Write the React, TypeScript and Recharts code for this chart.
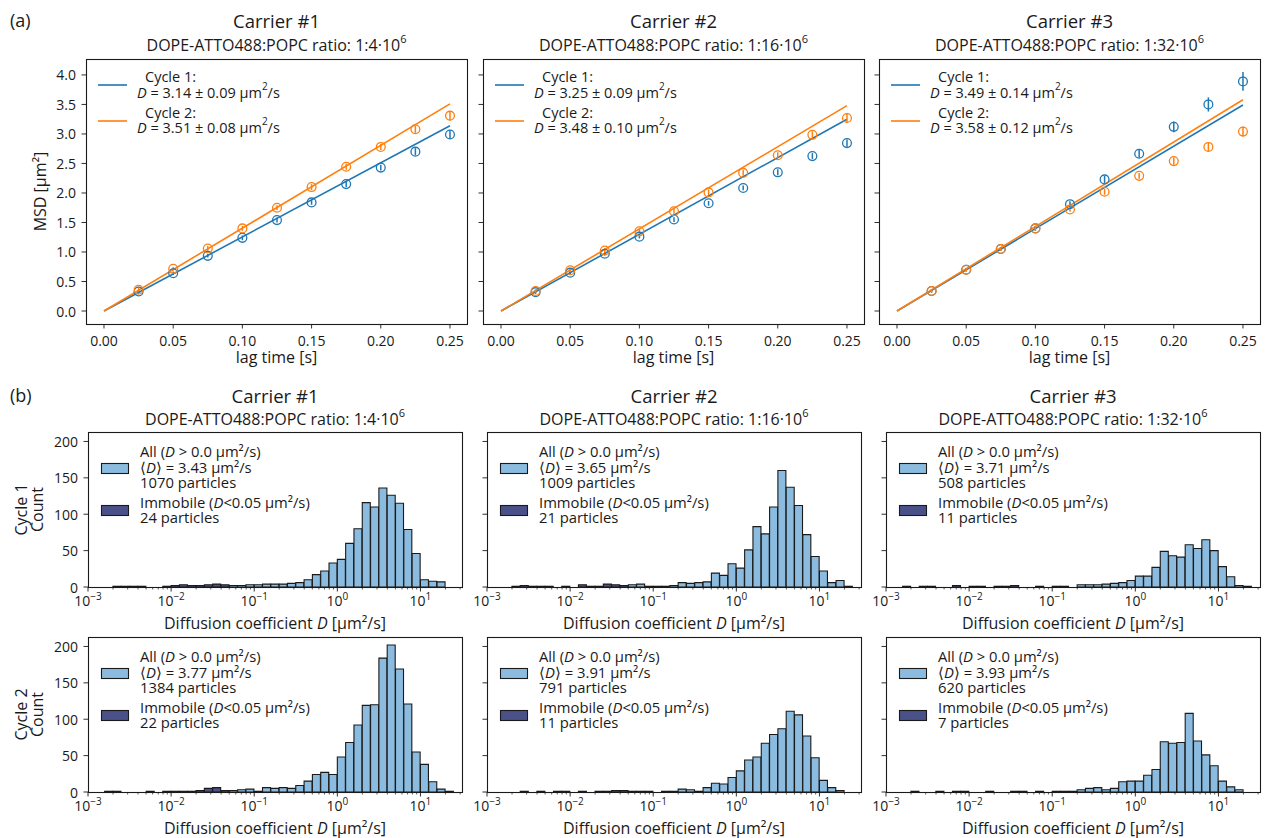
import React from 'react';
import { ComposedChart, BarChart, Bar, Line, Scatter, ErrorBar, XAxis, YAxis } from 'recharts';

const FONT = '"Open Sans", "Noto Sans", sans-serif';
const INK = '#1a1a1a';
const BLUE = '#1f77b4';
const ORANGE = '#ff7f0e';
const LIGHT = '#8bbcdf';
const DARK = '#4a5188';

// ---- (a) MSD vs lag time ----
const lagTimes = [0.025, 0.05, 0.075, 0.1, 0.125, 0.15, 0.175, 0.2, 0.225, 0.25];
const carriers = ['Carrier #1', 'Carrier #2', 'Carrier #3'];
const ratios = ['1:4', '1:16', '1:32'];

const msdCycle1 = [
  [0.33, 0.64, 0.935, 1.24, 1.54, 1.84, 2.15, 2.43, 2.7, 2.99],
  [0.32, 0.65, 0.97, 1.26, 1.55, 1.825, 2.085, 2.35, 2.625, 2.845],
  [0.34, 0.7, 1.05, 1.4, 1.81, 2.23, 2.665, 3.12, 3.5, 3.89],
];
const errCycle1 = [
  [0.03, 0.03, 0.03, 0.04, 0.04, 0.04, 0.05, 0.05, 0.06, 0.07],
  [0.03, 0.03, 0.03, 0.03, 0.04, 0.04, 0.04, 0.05, 0.05, 0.06],
  [0.03, 0.03, 0.03, 0.04, 0.05, 0.06, 0.07, 0.09, 0.12, 0.16],
];
const msdCycle2 = [
  [0.36, 0.715, 1.06, 1.4, 1.75, 2.1, 2.445, 2.78, 3.08, 3.31],
  [0.34, 0.69, 1.025, 1.35, 1.69, 2.01, 2.34, 2.64, 2.985, 3.27],
  [0.34, 0.7, 1.05, 1.4, 1.72, 2.02, 2.29, 2.54, 2.78, 3.04],
];
const errCycle2 = [
  [0.03, 0.03, 0.04, 0.04, 0.04, 0.05, 0.05, 0.05, 0.06, 0.08],
  [0.03, 0.03, 0.04, 0.04, 0.04, 0.05, 0.05, 0.05, 0.06, 0.08],
  [0.03, 0.03, 0.03, 0.04, 0.04, 0.05, 0.05, 0.06, 0.07, 0.08],
];
// linear fits MSD = 4 D t, drawn from t = 0 to t = 0.25
const fitLag = [0, 0.25];
const fitCycle1 = [[0, 3.14], [0, 3.25], [0, 3.49]];
const fitCycle2 = [[0, 3.51], [0, 3.48], [0, 3.58]];
const dCycle1 = ['3.14', '3.25', '3.49'];
const dErrCycle1 = ['0.09', '0.09', '0.14'];
const dCycle2 = ['3.51', '3.48', '3.58'];
const dErrCycle2 = ['0.08', '0.10', '0.12'];
const msdTicksX = [0, 0.05, 0.1, 0.15, 0.2, 0.25];
const msdTicksY = [0, 0.5, 1, 1.5, 2, 2.5, 3, 3.5, 4];

// ---- (b) histograms, bins of 0.1 decade from 1e-3 to 10^1.5 ----
const binStart = -3;
const binStep = 0.1;
const mobile = [
  [
    [0, 0, 0, 0, 0, 0, 0, 0, 0, 0, 0, 0, 0, 0, 0, 0, 0, 2, 2, 3, 3, 4, 4, 4, 5, 6, 10, 17, 22, 33, 38, 60, 80, 116, 110, 136, 126, 115, 79, 46, 10, 8, 7, 0, 0],
    [0, 0, 0, 0, 0, 0, 0, 0, 0, 0, 0, 0, 0, 0, 0, 0, 0, 3, 4, 1, 1, 1, 2, 6, 5, 6, 7, 19, 16, 32, 26, 51, 83, 73, 110, 160, 137, 112, 72, 42, 22, 6, 9, 1, 0],
    [0, 0, 0, 0, 0, 0, 0, 0, 0, 0, 0, 0, 0, 0, 0, 0, 0, 0, 1, 0, 1, 1, 0, 3, 3, 3, 4, 5, 6, 9, 15, 15, 27, 49, 43, 41, 58, 53, 65, 50, 28, 14, 2, 1, 0],
  ],
  [
    [0, 0, 0, 0, 0, 0, 0, 0, 0, 0, 0, 0, 0, 0, 0, 0, 0, 2, 3, 4, 1, 6, 5, 6, 5, 9, 15, 24, 27, 24, 48, 68, 92, 119, 120, 184, 202, 169, 121, 55, 38, 14, 4, 1, 0],
    [0, 0, 0, 0, 0, 0, 0, 0, 0, 0, 0, 0, 0, 0, 0, 0, 0, 1, 1, 1, 0, 1, 1, 4, 3, 1, 6, 12, 11, 20, 29, 44, 48, 67, 79, 87, 111, 106, 77, 47, 16, 6, 2, 0, 0],
    [0, 0, 0, 0, 0, 0, 0, 0, 0, 0, 0, 0, 0, 0, 0, 0, 0, 0, 1, 0, 1, 1, 1, 3, 5, 6, 3, 5, 14, 15, 15, 23, 31, 69, 67, 68, 108, 70, 51, 36, 15, 7, 3, 0, 0],
  ],
];
const immobile = [
  [
    [0, 0, 0, 1, 1, 1, 1, 0, 0, 1, 2, 3, 2, 2, 3, 4, 3],
    [0, 0, 0, 1, 2, 1, 1, 1, 0, 1, 0, 3, 1, 1, 4, 3, 2],
    [0, 0, 1, 0, 1, 1, 0, 0, 2, 0, 1, 1, 0, 1, 1, 2, 0],
  ],
  [
    [0, 0, 1, 1, 0, 0, 0, 1, 0, 1, 1, 1, 1, 2, 5, 6, 2],
    [0, 0, 0, 0, 1, 0, 1, 0, 1, 1, 0, 1, 0, 1, 1, 2, 2],
    [0, 0, 0, 1, 0, 0, 1, 0, 1, 1, 0, 0, 1, 0, 0, 1, 1],
  ],
];
const meanD = [['3.43', '3.65', '3.71'], ['3.77', '3.91', '3.93']];
const nParticles = [[1070, 1009, 508], [1384, 791, 620]];
const nImmobile = [[24, 21, 11], [22, 11, 7]];
const countTicks = [0, 50, 100, 150, 200];
const logTicks: number[] = [];
for (let e = -3; e <= 1; e++) {
  for (let k = 1; k <= 9; k++) {
    const v = e + Math.log10(k);
    if (v <= 1.5) logTicks.push(v);
  }
}

// ---- layout ----
const MT = 5;
const MR = 25;
const YW = 48;
const XH = 40;
const TOP = { y: 59, h: 265, w: 381, xs: [86, 483, 879] };
const HIST = { ys: [432, 637], h: 155, w: 374, xs: [88, 487, 886] };

const TICK_FS = 14;
const LABEL_FS = 16;
const SUB_FS = 16;
const TITLE_FS = 18.5;
const LEG_FS = 14.5;
const HLEG_FS = 14.8;
const TICK_LEN = 4.5;

const MsdXTick = (props: any) => {
  const { x, y, payload } = props;
  return (
    <g>
      <line x1={x} x2={x} y1={y} y2={y + TICK_LEN} stroke={INK} strokeWidth={0.9} />
      <text x={x} y={y + 16} textAnchor="middle" dominantBaseline="central" fontSize={TICK_FS} fill={INK} fontFamily={FONT}>
        {payload.value.toFixed(2)}
      </text>
    </g>
  );
};

const makeYTick = (show: boolean, digits: number) => (props: any) => {
  const { x, y, payload } = props;
  return (
    <g>
      <line x1={x - TICK_LEN} x2={x} y1={y} y2={y} stroke={INK} strokeWidth={0.9} />
      {show && (
        <text x={x - 10} y={y} textAnchor="end" dominantBaseline="central" fontSize={TICK_FS} fill={INK} fontFamily={FONT}>
          {payload.value.toFixed(digits)}
        </text>
      )}
    </g>
  );
};

const LogTick = (props: any) => {
  const { x, y, payload } = props;
  const v = payload.value;
  const major = Math.abs(v - Math.round(v)) < 1e-6;
  if (!major) {
    return <line x1={x} x2={x} y1={y} y2={y + 2.5} stroke={INK} strokeWidth={0.7} />;
  }
  const exp = Math.round(v);
  return (
    <g>
      <line x1={x} x2={x} y1={y} y2={y + TICK_LEN} stroke={INK} strokeWidth={0.9} />
      <text x={x} y={y + 19} textAnchor="middle" fontSize={TICK_FS} fill={INK} fontFamily={FONT}>
        10<tspan dy={-6} fontSize={10}>{exp < 0 ? '\u2212' + Math.abs(exp) : String(exp)}</tspan>
      </text>
    </g>
  );
};

const ring = (color: string) => (p: any) => (
  <circle cx={p.cx} cy={p.cy} r={4.4} fill="none" stroke={color} strokeWidth={1.3} />
);

function MsdPanel({ col }: { col: number }) {
  const x0 = TOP.xs[col];
  const pts1 = lagTimes.map((t, i) => ({ t, msd: msdCycle1[col][i], err: errCycle1[col][i] }));
  const pts2 = lagTimes.map((t, i) => ({ t, msd: msdCycle2[col][i], err: errCycle2[col][i] }));
  const fit1 = fitLag.map((t, i) => ({ t, msd: fitCycle1[col][i] }));
  const fit2 = fitLag.map((t, i) => ({ t, msd: fitCycle2[col][i] }));
  return (
    <div style={{ position: 'absolute', left: x0 - YW, top: TOP.y - MT }}>
      <ComposedChart width={TOP.w + YW + MR} height={TOP.h + MT + XH} margin={{ top: MT, right: MR, bottom: 0, left: 0 }}>
        <XAxis
          dataKey="t" type="number" domain={[-0.013, 0.2623]} allowDataOverflow ticks={msdTicksX} interval={0}
          height={XH} tick={MsdXTick} tickLine={false} axisLine={false} tickSize={0} tickMargin={0}
        />
        <YAxis
          dataKey="msd" type="number" domain={[-0.22, 4.27]} allowDataOverflow ticks={msdTicksY} interval={0}
          width={YW} tick={makeYTick(col === 0, 1)} tickLine={false} axisLine={false} tickSize={0} tickMargin={0}
        />
        <Line data={fit1} dataKey="msd" type="linear" stroke={BLUE} strokeWidth={1.6} dot={false} isAnimationActive={false} />
        <Line data={fit2} dataKey="msd" type="linear" stroke={ORANGE} strokeWidth={1.6} dot={false} isAnimationActive={false} />
        <Scatter data={pts1} dataKey="msd" fill="none" shape={ring(BLUE)} isAnimationActive={false}>
          <ErrorBar dataKey="err" direction="y" width={0} stroke={BLUE} strokeWidth={1.5} isAnimationActive={false} />
        </Scatter>
        <Scatter data={pts2} dataKey="msd" fill="none" shape={ring(ORANGE)} isAnimationActive={false}>
          <ErrorBar dataKey="err" direction="y" width={0} stroke={ORANGE} strokeWidth={1.5} isAnimationActive={false} />
        </Scatter>
      </ComposedChart>
    </div>
  );
}

function HistPanel({ row, col }: { row: number; col: number }) {
  const x0 = HIST.xs[col];
  const y0 = HIST.ys[row];
  const mob = mobile[row][col];
  const imm = immobile[row][col];
  const data = mob.map((m, i) => ({
    bin: i,
    c: binStart + binStep * (i + 0.5),
    mob: m,
    imm: imm[i] || 0,
  }));
  return (
    <div style={{ position: 'absolute', left: x0 - YW, top: y0 - MT }}>
      <BarChart
        width={HIST.w + YW + MR} height={HIST.h + MT + XH} data={data}
        barCategoryGap={0} barGap={0} margin={{ top: MT, right: MR, bottom: 0, left: 0 }}
      >
        <XAxis
          xAxisId="log" dataKey="c" type="number" domain={[-3, 1.5]} allowDataOverflow ticks={logTicks} interval={0}
          height={XH} tick={LogTick} tickLine={false} axisLine={false} tickSize={0} tickMargin={0}
        />
        <XAxis xAxisId="bin" dataKey="bin" hide height={0} />
        <YAxis
          type="number" domain={[0, 213]} allowDataOverflow ticks={countTicks} interval={0}
          width={YW} tick={makeYTick(col === 0, 0)} tickLine={false} axisLine={false} tickSize={0} tickMargin={0}
        />
        <Bar xAxisId="bin" dataKey="mob" stackId="s" fill={LIGHT} stroke={INK} strokeWidth={1.1} isAnimationActive={false} />
        <Bar xAxisId="bin" dataKey="imm" stackId="s" fill={DARK} stroke={INK} strokeWidth={1.1} isAnimationActive={false} />
      </BarChart>
    </div>
  );
}

const T = (p: any) => <text fontFamily={FONT} fill={INK} dominantBaseline="central" {...p} />;

const Subtitle = ({ x, y, ratio }: { x: number; y: number; ratio: string }) => (
  <T x={x} y={y} textAnchor="middle" fontSize={SUB_FS}>
    DOPE-ATTO488:POPC ratio: {ratio}{'\u00b7'}10<tspan dy={-7} fontSize={11}>6</tspan>
  </T>
);

const FitText = ({ x, y, d, e }: { x: number; y: number; d: string; e: string }) => (
  <T x={x} y={y} fontSize={LEG_FS}>
    <tspan fontStyle="italic">D</tspan> = {d} ± {e} µm<tspan dy={-6} fontSize={10}>2</tspan>
    <tspan dy={6}>/s</tspan>
  </T>
);

function Overlay() {
  const items: React.ReactNode[] = [];
  // (a) row
  TOP.xs.forEach((x0, col) => {
    const cx = x0 + TOP.w / 2;
    const y0 = TOP.y;
    items.push(
      <g key={'a' + col}>
        <rect x={x0 + 0.5} y={y0 + 0.5} width={TOP.w} height={TOP.h} fill="none" stroke={INK} strokeWidth={1.1} />
        <T x={cx} y={20} textAnchor="middle" fontSize={TITLE_FS}>{carriers[col]}</T>
        <Subtitle x={cx} y={45} ratio={ratios[col]} />
        <T x={cx} y={357} textAnchor="middle" fontSize={LABEL_FS}>lag time [s]</T>
        <line x1={x0 + 12} x2={x0 + 41} y1={y0 + 26} y2={y0 + 26} stroke={BLUE} strokeWidth={1.6} />
        <line x1={x0 + 12} x2={x0 + 41} y1={y0 + 62} y2={y0 + 62} stroke={ORANGE} strokeWidth={1.6} />
        <T x={x0 + 59} y={y0 + 17} fontSize={LEG_FS}>Cycle 1:</T>
        <FitText x={x0 + 51} y={y0 + 33} d={dCycle1[col]} e={dErrCycle1[col]} />
        <T x={x0 + 59} y={y0 + 53} fontSize={LEG_FS}>Cycle 2:</T>
        <FitText x={x0 + 51} y={y0 + 68} d={dCycle2[col]} e={dErrCycle2[col]} />
      </g>
    );
  });
  // (b) rows
  HIST.ys.forEach((y0, row) => {
    HIST.xs.forEach((x0, col) => {
      const cx = x0 + HIST.w / 2;
      items.push(
        <g key={'b' + row + col}>
          <rect x={x0 + 0.5} y={y0 + 0.5} width={HIST.w} height={HIST.h} fill="none" stroke={INK} strokeWidth={1.1} />
          <T x={cx} y={y0 + HIST.h + 36} textAnchor="middle" fontSize={LABEL_FS}>
            Diffusion coefficient <tspan fontStyle="italic">D</tspan> [µm²/s]
          </T>
          <rect x={x0 + 13.5} y={y0 + 31.5} width={27} height={10} fill={LIGHT} stroke={INK} strokeWidth={1.1} />
          <rect x={x0 + 13.5} y={y0 + 73.5} width={27} height={10} fill={DARK} stroke={INK} strokeWidth={1.1} />
          <T x={x0 + 52} y={y0 + 19} fontSize={HLEG_FS}>
            All (<tspan fontStyle="italic">D</tspan> {'>'} 0.0 µm²/s)
          </T>
          <T x={x0 + 52} y={y0 + 35} fontSize={HLEG_FS}>
            {'\u27e8'}<tspan fontStyle="italic">D</tspan>{'\u27e9'} = {meanD[row][col]} µm²/s
          </T>
          <T x={x0 + 52} y={y0 + 50} fontSize={HLEG_FS}>{nParticles[row][col]} particles</T>
          <T x={x0 + 52} y={y0 + 70} fontSize={HLEG_FS}>
            Immobile (<tspan fontStyle="italic">D</tspan>{'<'}0.05 µm²/s)
          </T>
          <T x={x0 + 52} y={y0 + 85} fontSize={HLEG_FS}>{nImmobile[row][col]} particles</T>
        </g>
      );
      if (row === 0) {
        items.push(
          <g key={'bt' + col}>
            <T x={cx} y={395} textAnchor="middle" fontSize={TITLE_FS}>{carriers[col]}</T>
            <Subtitle x={cx} y={419} ratio={ratios[col]} />
          </g>
        );
      }
    });
    const cy = y0 + HIST.h / 2;
    items.push(
      <g key={'yl' + row}>
        <T x={21} y={cy} textAnchor="middle" fontSize={LABEL_FS} transform={`rotate(-90 21 ${cy})`}>Cycle {row + 1}</T>
        <T x={37} y={cy} textAnchor="middle" fontSize={LABEL_FS} transform={`rotate(-90 37 ${cy})`}>Count</T>
      </g>
    );
  });
  const my = TOP.y + TOP.h / 2;
  return (
    <svg width={1269} height={838} style={{ position: 'absolute', left: 0, top: 0, pointerEvents: 'none' }}>
      <T x={10} y={20} fontSize={18}>(a)</T>
      <T x={10} y={395} fontSize={18}>(b)</T>
      <T x={40} y={my} textAnchor="middle" fontSize={LABEL_FS} transform={`rotate(-90 40 ${my})`}>MSD [µm²]</T>
      {items}
    </svg>
  );
}

export default function App() {
  return (
    <div style={{ position: 'absolute', left: 0, top: 0, width: 1269, height: 838, background: '#fff', fontFamily: FONT }}>
      {[0, 1, 2].map((c) => <MsdPanel key={'m' + c} col={c} />)}
      {[0, 1].map((r) => [0, 1, 2].map((c) => <HistPanel key={'h' + r + c} row={r} col={c} />))}
      <Overlay />
    </div>
  );
}
